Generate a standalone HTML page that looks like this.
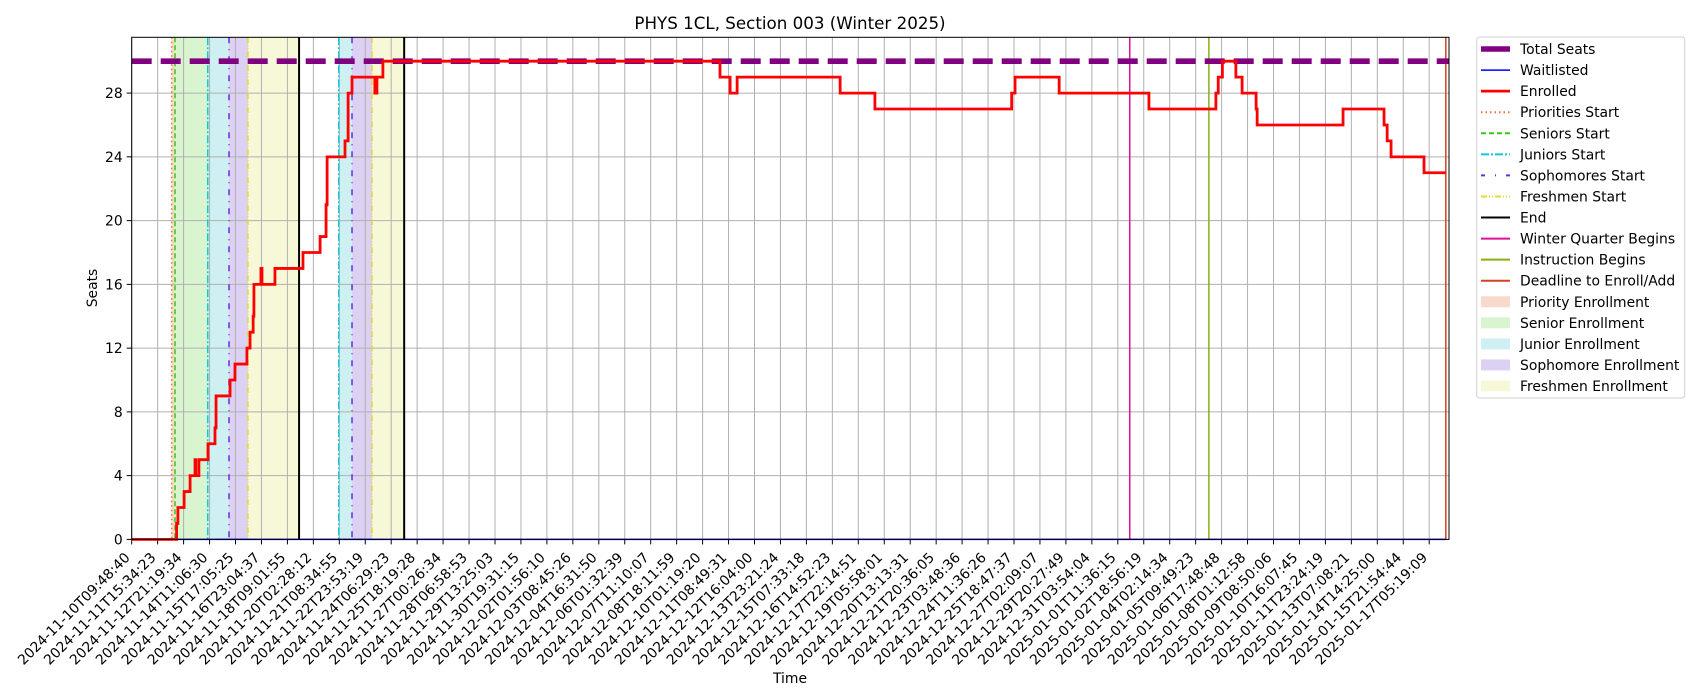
<!DOCTYPE html>
<html><head><meta charset="utf-8"><style>
html,body{margin:0;padding:0;background:#fff;}
svg{display:block;font-family:"DejaVu Sans","Liberation Sans",sans-serif;}
</style></head><body>
<svg id="chart" width="1700" height="700" viewBox="0 0 1700 700" xmlns="http://www.w3.org/2000/svg">
<text x="790" y="29" font-size="16.7" text-anchor="middle">PHYS 1CL, Section 003 (Winter 2025)</text>
<g id="plot"></g>
<text x="790" y="683" font-size="13.9" text-anchor="middle">Time</text>
<text x="0" y="0" font-size="13.9" text-anchor="middle" transform="translate(97,288) rotate(-90)">Seats</text>
<g id="legend"></g>
</svg>
<script>
const tickLabels = ["2024-11-10T09:48:40","2024-11-11T15:34:23","2024-11-12T21:19:34","2024-11-14T11:06:30","2024-11-15T17:05:25","2024-11-16T23:04:37","2024-11-18T09:01:55","2024-11-20T02:28:12","2024-11-21T08:34:55","2024-11-22T23:53:19","2024-11-24T06:29:23","2024-11-25T18:19:28","2024-11-27T00:26:34","2024-11-28T06:58:53","2024-11-29T13:25:03","2024-11-30T19:31:15","2024-12-02T01:56:10","2024-12-03T08:45:26","2024-12-04T16:31:50","2024-12-06T01:32:39","2024-12-07T11:10:07","2024-12-08T18:11:59","2024-12-10T01:19:20","2024-12-11T08:49:31","2024-12-12T16:04:00","2024-12-13T23:21:24","2024-12-15T07:33:18","2024-12-16T14:52:23","2024-12-17T22:14:51","2024-12-19T05:58:01","2024-12-20T13:13:31","2024-12-21T20:36:05","2024-12-23T03:48:36","2024-12-24T11:36:26","2024-12-25T18:47:37","2024-12-27T02:09:07","2024-12-29T20:27:49","2024-12-31T03:54:04","2025-01-01T11:36:15","2025-01-02T18:56:19","2025-01-04T02:14:34","2025-01-05T09:49:23","2025-01-06T17:48:48","2025-01-08T01:12:58","2025-01-09T08:50:06","2025-01-10T16:07:45","2025-01-11T23:24:19","2025-01-13T07:08:21","2025-01-14T14:25:00","2025-01-15T21:54:44","2025-01-17T05:19:09"];
const yTicks = [0,4,8,12,16,20,24,28];
const enrolledT = [0,1.73,1.78,2.02,2.25,2.44,2.47,2.59,2.94,3.21,3.25,3.79,3.98,4.44,4.56,4.68,4.71,4.98,5.02,5.52,6.6,7.26,7.49,7.53,8.22,8.34,8.49,9.37,9.45,9.68,22.67,23.06,23.33,27.3,28.64,33.91,34.04,35.74,39.2,41.78,41.87,42.03,42.55,42.79,43.33,43.37,46.68,48.26,48.38,48.53,49.8,50.64];
const enrolledV = [0,1,2,3,4,5,4,5,6,7,9,10,11,12,13,14,16,17,16,17,18,19,21,24,25,28,29,28,29,30,29,28,29,28,27,28,29,28,27,28,29,30,29,28,27,26,27,26,25,24,23,23];
const waitT = [0,50.64];
const waitV = [0,0];
const totalSeats = 30;
const spanStarts = [1.54,1.67,2.93,3.75,4.48,7.98,8.49,9.26];
const spanEnds   = [1.67,2.93,3.75,4.48,6.45,8.49,9.26,10.5];
const spanKinds  = ["priority","senior","junior","sophomore","freshmen","junior","sophomore","freshmen"];
const eventT     = [1.54,1.67,2.93,3.75,4.48,6.45,7.98,8.49,9.26,10.5,38.46,41.51,50.64];
const eventKinds = ["priorities","seniors","juniors","sophomores","freshmen","end","juniors","sophomores","freshmen","end","winter","instruction","deadline"];

const X0=131.7, X1=1449, Y0=539.4, Y1=37.3, XMAX=(1449-131.7)/25.95, YMAX=31.5;
function xs(u){return X0+u*(X1-X0)/XMAX;}
function ys(v){return Y0-v*(Y0-Y1)/YMAX;}
const NS="http://www.w3.org/2000/svg";
function mk(tag,attrs,parent){const e=document.createElementNS(NS,tag);for(const k in attrs)e.setAttribute(k,attrs[k]);parent.appendChild(e);return e;}
const plot=document.getElementById('plot');
const spanFill={priority:"#f8d9cc",senior:"#d8f5d0",junior:"#cff0f2",sophomore:"#ddd1f3",freshmen:"#f7f8d8"};
const lineStyle={priorities:["#e8703a","1.5","1.5,3"],seniors:["#33cc11","1.5","5,3"],juniors:["#11c8d8","1.5","8,2,2,2"],sophomores:["#6a2be0","1.5","6,6,1,6"],freshmen:["#dddd33","1.5","6,2,1,2,1,2"],end:["#000000","2","none"],winter:["#dd1199","1.5","none"],instruction:["#88b010","1.5","none"],deadline:["#cc4422","1.5","none"]};

for(let i=0;i<spanStarts.length;i++){
  const r=mk('rect',{x:xs(spanStarts[i]),y:Y1,width:xs(spanEnds[i])-xs(spanStarts[i]),height:Y0-Y1,fill:spanFill[spanKinds[i]]},plot);
  
  
}
for(let i=0;i<tickLabels.length;i++){
  const x=xs(i);
  const g=mk('line',{x1:x,x2:x,y1:Y1,y2:Y0,stroke:"#b0b0b0","stroke-width":1},plot);
  
  
  const tk=mk('line',{x1:x,x2:x,y1:Y0,y2:Y0+5,stroke:"#000","stroke-width":1},plot);
  
  
  const t=mk('text',{x:0,y:0,"font-size":"13.9","text-anchor":"end",transform:"translate("+(x-1)+","+(Y0+19)+") rotate(-45)"},plot);
  t.textContent=tickLabels[i];
  
  
}
for(const v of yTicks){
  const y=ys(v);
  const g=mk('line',{x1:X0,x2:X1,y1:y,y2:y,stroke:"#b0b0b0","stroke-width":1},plot);
  
  
  const tk=mk('line',{x1:X0-5,x2:X0,y1:y,y2:y,stroke:"#000","stroke-width":1},plot);
  
  
  const t=mk('text',{x:X0-9,y:y+5,"font-size":"13.9","text-anchor":"end"},plot);
  t.textContent=String(v);
  
  
}
for(let i=0;i<eventT.length;i++){
  const s=lineStyle[eventKinds[i]];
  const l=mk('line',{x1:xs(eventT[i]),x2:xs(eventT[i]),y1:Y1,y2:Y0,stroke:s[0],"stroke-width":s[1],"stroke-dasharray":s[2]},plot);
  
  
}
function stepPath(T,V){let d="M"+xs(T[0])+","+ys(V[0]);for(let i=1;i<T.length;i++){d+=" L"+xs(T[i])+","+ys(V[i-1])+" L"+xs(T[i])+","+ys(V[i]);}return d;}
const wl=mk('path',{d:stepPath(waitT,waitV),fill:"none",stroke:"#0000ff","stroke-width":1.5},plot);


const ts=mk('line',{x1:X0,x2:X1,y1:ys(totalSeats),y2:ys(totalSeats),stroke:"#800080","stroke-width":5.6,"stroke-dasharray":"20,9"},plot);


const el=mk('path',{d:stepPath(enrolledT,enrolledV),fill:"none",stroke:"#ff0000","stroke-width":2.8},plot);


const fr=mk('rect',{x:X0,y:Y1,width:X1-X0,height:Y0-Y1,fill:"none",stroke:"#000","stroke-width":1},plot);



const legLabels=["Total Seats","Waitlisted","Enrolled","Priorities Start","Seniors Start","Juniors Start","Sophomores Start","Freshmen Start","End","Winter Quarter Begins","Instruction Begins","Deadline to Enroll/Add","Priority Enrollment","Senior Enrollment","Junior Enrollment","Sophomore Enrollment","Freshmen Enrollment"];
const legColor=["#800080","#0000ff","#ff0000","#e8703a","#33cc11","#11c8d8","#6a2be0","#dddd33","#000000","#dd1199","#88b010","#cc4422","#f8d9cc","#d8f5d0","#cff0f2","#ddd1f3","#f7f8d8"];
const legWidth=["5.6","1.5","2.8","2","2","2","2","2","2","2","2","2","0","0","0","0","0"];
const legDash=["none","none","none","1.5,3","5,3","8,2,2,2","4,10,1,10","6,2,1,2,1,2","none","none","none","none","none","none","none","none","none"];
const leg=document.getElementById('legend');
const lb=mk('rect',{x:1476.7,y:37,width:208,height:361,rx:3,fill:"#fff",stroke:"#d0d0d0","stroke-width":1},leg);


for(let i=0;i<legLabels.length;i++){
  const cy=37+12+i*((398-37-24)/16);
  let h;
  if(i<12){
    h=mk('line',{x1:1481,x2:1510,y1:cy,y2:cy,stroke:legColor[i],"stroke-width":legWidth[i],"stroke-dasharray":legDash[i]},leg);
  } else {
    h=mk('rect',{x:1481,y:cy-5.5,width:29,height:11,fill:legColor[i]},leg);
  }
  
  
  const t=mk('text',{x:1520,y:cy+5,"font-size":"13.9"},leg);
  t.textContent=legLabels[i];
  
  
}
</script>
</body></html>
